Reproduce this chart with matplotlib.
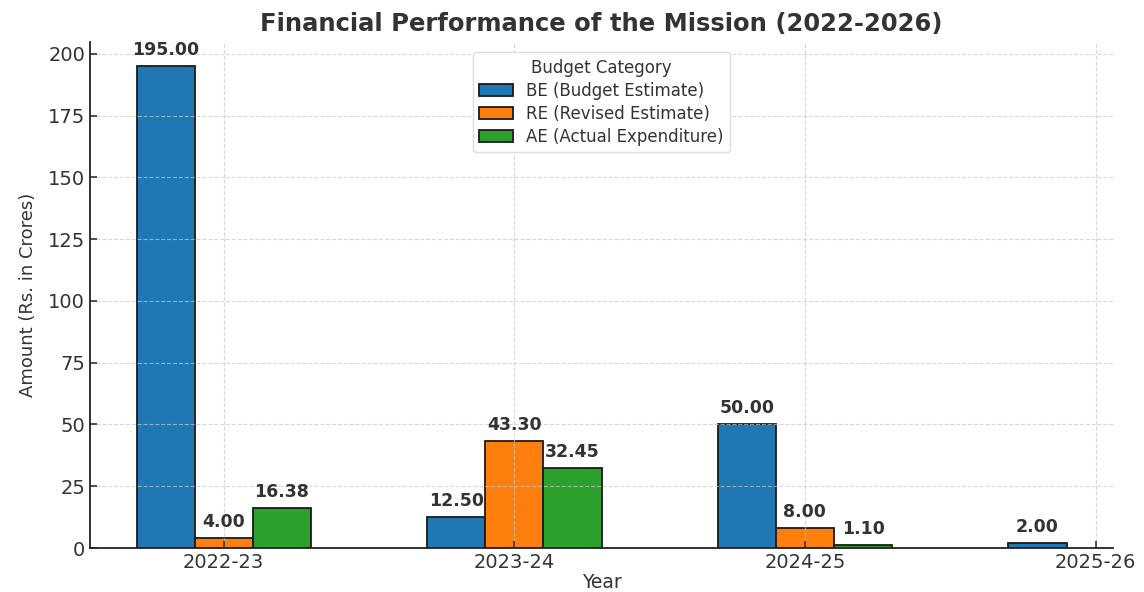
import numpy as np
import matplotlib
matplotlib.use("Agg")
from matplotlib import pyplot as plt

# Data
years = ["2022-23", "2023-24", "2024-25", "2025-26"]
be_values = [195.00, 12.50, 50.00, 2.00]
re_values = [4.00, 43.30, 8.00, np.nan]
ae_values = [16.38, 32.45, 1.10, np.nan]
series_names = ["BE (Budget Estimate)", "RE (Revised Estimate)", "AE (Actual Expenditure)"]

txt = "#333333"
plt.rcParams["text.color"] = txt
plt.rcParams["axes.labelcolor"] = txt
plt.rcParams["xtick.color"] = txt
plt.rcParams["ytick.color"] = txt

fig = plt.figure(figsize=(11.44, 5.92), dpi=100)
ax = fig.add_axes([90 / 1144, 1 - 548 / 592, (1113 - 90) / 1144, (548 - 42) / 592])

x = np.arange(len(years))
width = 0.2
colors = ["#1f77b4", "#ff7f0e", "#2ca02c"]

for i, (vals, name) in enumerate(zip([be_values, re_values, ae_values], series_names)):
    pos = x + (i - 1) * width
    bars = ax.bar(pos, vals, width, label=name, color=colors[i],
                  edgecolor="#1a1a1a", linewidth=1.3)
    for xp, v in zip(pos, vals):
        if np.isnan(v):
            continue
        ax.annotate(f"{v:.2f}", (xp, v), xytext=(0, 5), textcoords="offset points",
                    ha="center", va="bottom", fontsize=12.5, fontweight="bold", color=txt)

ax.set_xlim(-0.46, 3.06)
ax.set_ylim(0, 204.75)
ax.set_xticks(x)
ax.set_xticklabels(years)
ax.set_yticks(np.arange(0, 201, 25))
ax.tick_params(axis="both", direction="in", labelsize=14, length=5, width=1.2)

ax.spines["top"].set_visible(False)
ax.spines["right"].set_visible(False)
ax.spines["left"].set_linewidth(1.3)
ax.spines["bottom"].set_linewidth(1.3)
ax.spines["left"].set_color("#222222")
ax.spines["bottom"].set_color("#222222")

ax.grid(True, linestyle="--", color="#c8c8c8", linewidth=0.8, alpha=0.7)

ax.set_title("Financial Performance of the Mission (2022-2026)", fontsize=17.5,
             fontweight="bold", pad=8)
ax.set_xlabel("Year", fontsize=13.5, labelpad=1)
ax.set_ylabel("Amount (Rs. in Crores)", fontsize=13, labelpad=8)

leg = ax.legend(title="Budget Category", loc="upper center", fontsize=12,
                title_fontsize=12, framealpha=1.0, edgecolor="#dddddd",
                labelspacing=0.3, borderaxespad=0.6)

fig.savefig("out.png", dpi=100)
